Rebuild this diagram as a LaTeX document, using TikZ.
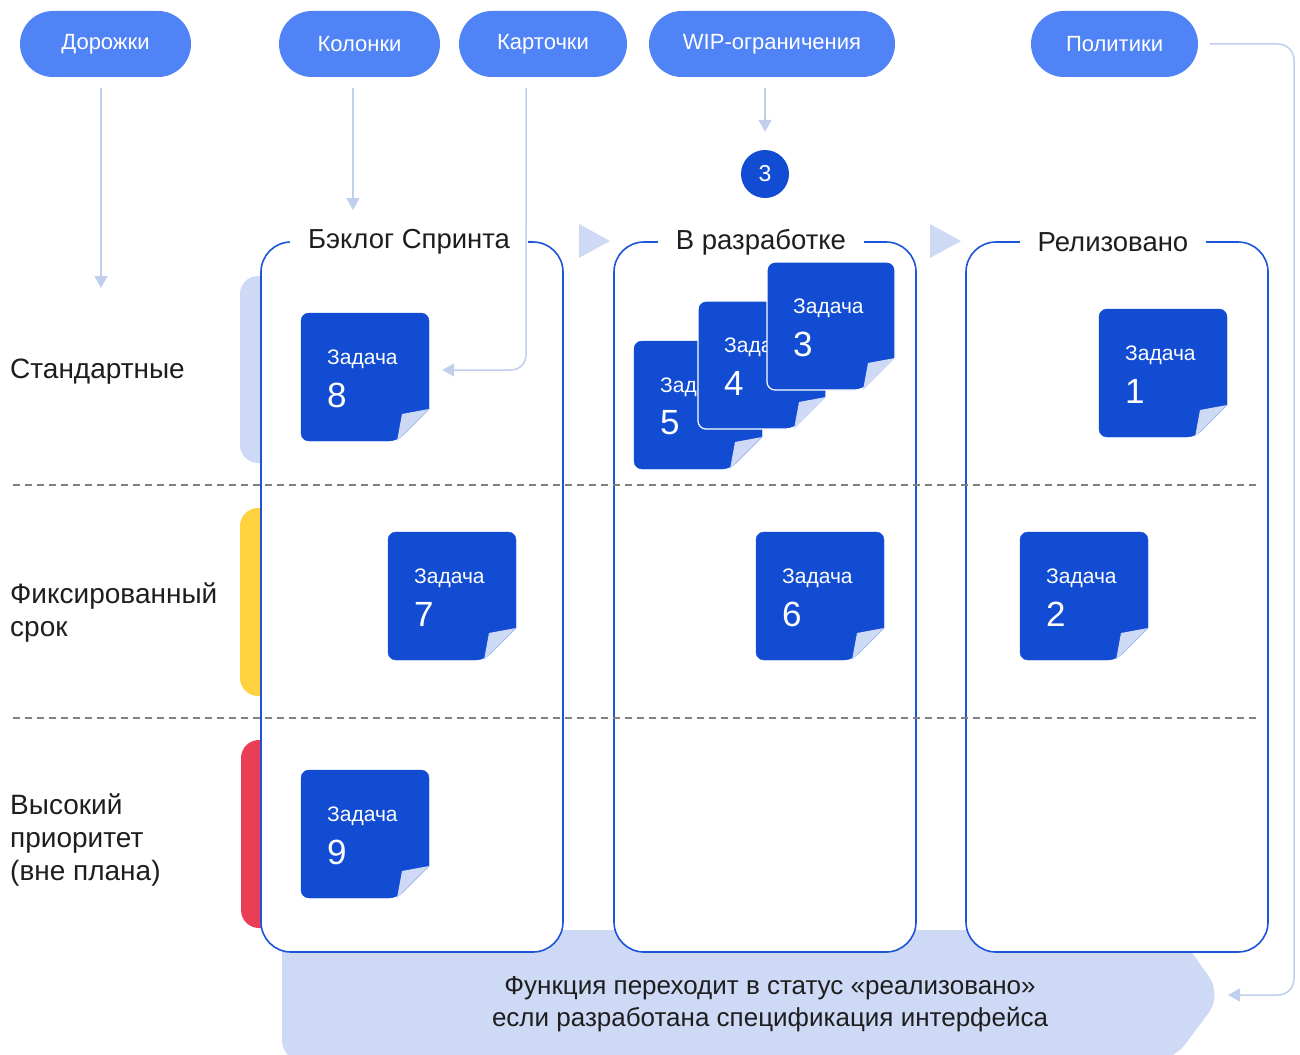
\documentclass[tikz,border=0pt]{standalone}
\usepackage{fontspec}
\setmainfont{Liberation Sans}
\usetikzlibrary{arrows.meta,positioning,calc}

\definecolor{pillblue}{HTML}{5083F6}
\definecolor{cardblue}{HTML}{114CD3}
\definecolor{lineblue}{HTML}{1C55D8}
\definecolor{paleblue}{HTML}{CDD9F5}
\definecolor{linkblue}{HTML}{BFCFEC}
\definecolor{laneyellow}{HTML}{FFD23F}
\definecolor{lanered}{HTML}{EA3E56}
\definecolor{inkgray}{HTML}{1E1E1E}

% one task card: [extra options]{name}{x}{y}{number}
\newcommand{\zadacha}[5][]{%
  \begin{scope}[shift={(#3,#4)}]
    \node[cardbox] (#2) at (64,64) {};
    \filldraw[cardblue, #1] (128,96) [rounded corners=8pt] -- (128,0) -- (0,0) -- (0,128) -- (96,128) [sharp corners] -- cycle;
    \fill[paleblue] (128,96) -- (101,101) -- (96,128) -- cycle;
    \node[cardtext] at (26,46) {Задача};
    \node[cardnum] at (26,82) {#5};
  \end{scope}
}

\begin{document}
\begin{tikzpicture}[x=1pt, y=-1pt,
    pill/.style={fill=pillblue, text=white, rounded corners=33pt, minimum height=66pt, inner sep=0, font=\fontsize{22}{26}\selectfont},
    column/.style={draw=lineblue, line width=1.6pt, fill=white, rounded corners=30pt, minimum width=302pt, minimum height=710pt},
    coltitle/.style={fill=white, text=inkgray, inner xsep=18pt, inner ysep=2pt, font=\fontsize{27.5}{32}\selectfont},
    lanetext/.style={anchor=west, align=left, text=inkgray, inner sep=0, font=\fontsize{28}{33}\selectfont},
    lanesep/.style={draw=gray, line width=1.2pt, dash pattern=on 7pt off 5pt},
    cardbox/.style={minimum size=128pt, inner sep=0},
    cardtext/.style={anchor=west, text=white, inner sep=0, font=\fontsize{21}{25}\selectfont},
    cardnum/.style={anchor=west, text=white, inner sep=0, font=\fontsize{35}{40}\selectfont},
    link/.style={draw=linkblue, line width=1.5pt, -{Triangle[length=12pt,width=13pt]}}]
  \useasboundingbox (0,0) rectangle (1300,1054);

  % lane markers
  \fill[paleblue, rounded corners=18pt] (240,276) rectangle (290,463);
  \fill[laneyellow, rounded corners=18pt] (240,508) rectangle (290,696);
  \fill[lanered, rounded corners=18pt] (241,740) rectangle (290,928);

  % policy banner
  \coordinate (tip) at (1216,995);
  \fill[paleblue, rounded corners=22pt] (282,930) -- (1176,930) -- (1222,995) -- (1172,1062) -- (282,1062) -- cycle;

  % columns
  \node[column] (backlog) at (412,597) {};
  \node[column] (dev) at (765,597) {};
  \node[column] (done) at (1117,597) {};
  \node[coltitle] at ([xshift=-3pt,yshift=-1pt]backlog.north) {Бэклог Спринта};
  \node[coltitle] at ([xshift=-4pt,yshift=-1pt]dev.north) {В разработке};
  \node[coltitle] at ([xshift=-4pt,yshift=-1pt]done.north) {Релизовано};
  \fill[paleblue] (579,224) -- (579,258) -- (610,241) -- cycle;
  \fill[paleblue] (930,224) -- (930,258) -- (961,241) -- cycle;

  % swimlanes
  \draw[lanesep] (13,485) -- (1260,485);
  \draw[lanesep] (13,718) -- (1260,718);
  \node[lanetext] (std) at (10,372) {Стандартные};
  \node[lanetext] (fix) at (10,613) {Фиксированный\\срок};
  \node[lanetext] (high) at (10,840) {Высокий\\приоритет\\(вне плана)};

  % cards
  \zadacha{c8}{301}{313}{8}
  \zadacha{c7}{388}{532}{7}
  \zadacha{c9}{301}{770}{9}
  \zadacha{c5}{634}{341}{5}
  \zadacha[draw=white, line width=1.2pt]{c4}{698}{301}{4}
  \zadacha[draw=white, line width=1.2pt]{c3}{767}{262}{3}
  \zadacha{c1}{1099}{309}{1}
  \zadacha{c6}{756}{532}{6}
  \zadacha{c2}{1020}{532}{2}

  \node[circle, fill=cardblue, text=white, minimum size=48pt, inner sep=0, font=\fontsize{23}{26}\selectfont] (limit) at (765,174) {3};

  % legend pills
  \node[pill, minimum width=171pt] (dor) at (105.5,44) {Дорожки};
  \node[pill, minimum width=161pt] (kol) at (359.5,44) {Колонки};
  \node[pill, minimum width=168pt] (kar) at (543,44) {Карточки};
  \node[pill, minimum width=246pt] (wip) at (772,44) {WIP-ограничения};
  \node[pill, minimum width=167pt] (pol) at (1114.5,44) {Политики};

  % pointers
  \coordinate (laneend) at (101,288);
  \coordinate (colend) at (353,210);
  \coordinate (polturn) at (1294,995);
  \draw[link, shorten <=11pt] (dor.south -| laneend) -- (laneend);
  \draw[link, shorten <=11pt] (kol.south -| colend) -- (colend);
  \draw[link, rounded corners=15pt, shorten <=11pt, shorten >=13pt] ([xshift=-17pt]kar.south) |- ([yshift=7pt]c8.east);
  \draw[link, shorten <=11pt, shorten >=18pt] (wip.south -| limit) -- (limit.north);
  \draw[link, rounded corners=16pt, shorten <=12pt, shorten >=12pt] (pol.east) -| (polturn) -- (tip);

  \node[align=center, text=inkgray, font=\fontsize{26}{32}\selectfont] (rule) at (770,1004) {Функция переходит в статус «реализовано»\\если разработана спецификация интерфейса};
\end{tikzpicture}
\end{document}
